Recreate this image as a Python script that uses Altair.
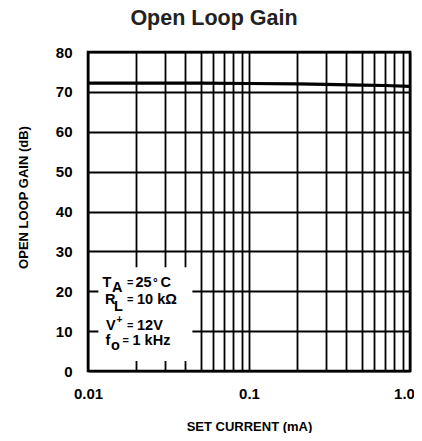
import altair as alt
import pandas as pd

# ---- data ----
current_ma = [0.01, 0.02, 0.05, 0.1, 0.2, 0.3, 0.5, 0.7, 1.0]
gain_db = [72.2, 72.2, 72.2, 72.1, 72.0, 71.9, 71.7, 71.6, 71.4]

x_grid = [0.01, 0.02, 0.03, 0.04, 0.05, 0.06, 0.07, 0.08, 0.09,
          0.1, 0.2, 0.3, 0.4, 0.5, 0.6, 0.7, 0.8, 0.9, 1.0]
y_grid = [0, 10, 20, 30, 40, 50, 60, 70, 80]

df = pd.DataFrame({"current": current_ma, "gain": gain_db})

FONT = "Liberation Sans"
W, H = 322, 319

xs = alt.Scale(type="log", domain=[0.01, 1.0], nice=False)
ys = alt.Scale(domain=[0, 80], nice=False)

x_axis = alt.Axis(values=x_grid, grid=True, gridColor="black", gridWidth=1.8,
                  gridOpacity=1, domain=False, ticks=False, tickSize=0,
                  labelExpr="datum.value == 0.01 ? '0.01' : datum.value == 0.1 ? '0.1' : datum.value == 1 ? '1.0' : ''",
                  labelOverlap=False, labelFlush=False, labelPadding=15, labelBound=False,
                  labelOffset={"condition": {"test": "datum.value == 1", "value": -6}, "value": 0},
                  labelFont=FONT, labelFontSize=15, labelFontWeight="bold", labelColor="black",
                  title="SET CURRENT (mA)", titleFont=FONT, titleFontSize=13,
                  titleFontWeight="bold", titleColor="black",
                  titleBaseline="alphabetic", titleY=59)
y_axis = alt.Axis(values=y_grid, grid=True, gridColor="black", gridWidth=1.8,
                  gridOpacity=1, domain=False, ticks=False, tickSize=0,
                  labelOverlap=False, labelPadding=16, labelBaseline="middle",
                  labelFont=FONT, labelFontSize=15, labelFontWeight="bold", labelColor="black",
                  title="OPEN LOOP GAIN (dB)", titleFont=FONT, titleFontSize=13,
                  titleFontWeight="bold", titleColor="black",
                  titleBaseline="alphabetic", titleX=-61, titleY=145, titleAngle=-90)

line = alt.Chart(df).mark_line(color="black", strokeWidth=3.2).encode(
    x=alt.X("current:Q", scale=xs, axis=x_axis),
    y=alt.Y("gain:Q", scale=ys, axis=y_axis),
)

# ---- title as a text mark above the plot ----
title_df = pd.DataFrame({"t": ["Open Loop Gain"]})
title = alt.Chart(title_df).mark_text(font=FONT, fontSize=21.5, fontWeight="bold", color="#222222",
                                      align="center", baseline="alphabetic").encode(
    x=alt.value(126), y=alt.value(-27), text="t:N")

# ---- annotation (conditions box) ----
box_df = pd.DataFrame({"current": [0.0116], "x2": [0.0445], "gain": [2.5], "y2": [26.0]})
box = alt.Chart(box_df).mark_rect(color="white").encode(
    x=alt.X("current:Q", scale=xs, axis=x_axis), x2="x2:Q",
    y=alt.Y("gain:Q", scale=ys, axis=y_axis), y2="y2:Q")

line_y = [21.07, 16.88, 10.28, 6.52]   # baselines of the four condition lines (dB)


def piece(text, row, dx, dy=0, size=14.5):
    d = pd.DataFrame({"current": [0.01], "gain": [line_y[row]], "t": [text]})
    return alt.Chart(d).mark_text(font=FONT, fontSize=size, fontWeight="bold",
                                  color="black", align="left", baseline="alphabetic",
                                  dx=dx, dy=dy).encode(
        x=alt.X("current:Q", scale=xs, axis=x_axis),
        y=alt.Y("gain:Q", scale=ys, axis=y_axis), text="t:N")


texts = [
    piece("T", 0, 14.5), piece("A", 0, 24, 5), piece("=", 0, 39, -1, 11), piece("25", 0, 47.5), piece("°", 0, 65, 0, 12), piece("C", 0, 72.5),
    piece("R", 1, 17), piece("L", 1, 26, 7), piece("=", 1, 39, -1, 11), piece("10 kΩ", 1, 49),
    piece("V", 2, 18), piece("+", 2, 28.5, -7, 10), piece("=", 2, 39, -1, 11), piece("12V", 2, 49),
    piece("f", 3, 17.5), piece("o", 3, 23, 5), piece("=", 3, 34.5, -1, 11), piece("1 kHz", 3, 44.5),
]

chart = alt.layer(line, box, title, *texts).properties(
    width=W, height=H, background="white",
    autosize=alt.AutoSizeParams(type="none"),
    padding={"left": 80, "top": 44, "right": 4, "bottom": 62},
).configure_view(stroke="black", strokeWidth=2.6)

chart.save("out.html", embed_options={"renderer": "svg", "actions": False})
